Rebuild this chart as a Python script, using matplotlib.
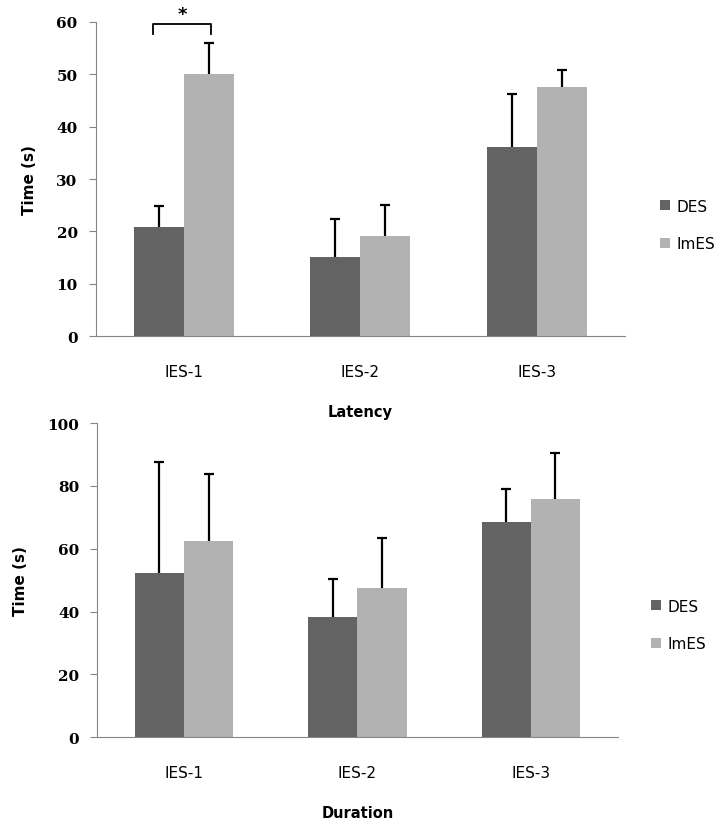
import matplotlib
matplotlib.use("Agg")
import matplotlib.pyplot as plt
import numpy as np

# data
groups = ["IES-1", "IES-2", "IES-3"]
series = ["DES", "ImES"]

lat_des = [20.8, 15.2, 36.1]
lat_des_err = [4.1, 7.2, 10.1]
lat_imes = [50.1, 19.1, 47.5]
lat_imes_err = [5.8, 6.0, 3.3]

dur_des = [52.3, 38.3, 68.4]
dur_des_err = [35.2, 12.1, 10.6]
dur_imes = [62.5, 47.5, 75.8]
dur_imes_err = [21.4, 15.8, 14.7]

DARK = "#636363"
LIGHT = "#b2b2b2"
AXC = "#868686"
W = 0.283


def upperErr(ax, x, vals, errs):
    # one-sided error bars: stem from bar top plus a cap, no lower cap
    vals, errs = np.asarray(vals), np.asarray(errs)
    ax.vlines(x, vals, vals + errs, color="black", lw=1.6, zorder=3)
    ax.plot(x, vals + errs, ls="none", marker="_", ms=7, mew=1.6,
            color="black", zorder=3, clip_on=False)


def drawPanel(ax, des, des_err, imes, imes_err, ymax, step, xlabel):
    x = np.arange(len(groups))
    ax.bar(x - W / 2, des, W, color=DARK, label=series[0])
    ax.bar(x + W / 2, imes, W, color=LIGHT, label=series[1])
    upperErr(ax, x - W / 2, des, des_err)
    upperErr(ax, x + W / 2, imes, imes_err)
    ax.set_xlim(-0.5, 2.5)
    ax.set_ylim(0, ymax)
    ax.set_yticks(np.arange(0, ymax + 1, step))
    ax.set_xticks(x)
    ax.set_xticklabels(groups, fontsize=11)
    for s in ["top", "right"]:
        ax.spines[s].set_visible(False)
    for s in ["left", "bottom"]:
        ax.spines[s].set_color(AXC)
    ax.tick_params(axis="x", length=0, pad=20)
    ax.tick_params(axis="y", length=5, color=AXC, pad=8)
    for t in ax.get_yticklabels():
        t.set_fontfamily("DejaVu Serif")
        t.set_fontweight("bold")
        t.set_fontsize(11)
    ax.set_ylabel("Time (s)", fontsize=11, fontweight="bold", labelpad=14)
    ax.set_xlabel(xlabel, fontsize=10.5, fontweight="bold", labelpad=18)


fig = plt.figure(figsize=(7.26, 8.29), dpi=100)
ax1 = fig.add_axes([0.1318, 0.5931, 0.7291, 0.3795])
ax2 = fig.add_axes([0.1340, 0.1094, 0.7168, 0.3791])

drawPanel(ax1, lat_des, lat_des_err, lat_imes, lat_imes_err, 60, 10, "Latency")
drawPanel(ax2, dur_des, dur_des_err, dur_imes, dur_imes_err, 100, 20, "Duration")

# significance bracket
ax1.plot([-0.176, -0.176, 0.153, 0.153], [57.6, 59.6, 59.6, 57.6],
         color="black", lw=1.3, clip_on=False)
ax1.text(-0.01, 61.4, "*", ha="center", va="center", fontsize=13,
         fontweight="bold", clip_on=False)

for ax, ypix, xpix in [(ax1, 226, 660), (ax2, 626, 651)]:
    h, l = ax.get_legend_handles_labels()
    fig.legend(h, l, loc="center left",
               bbox_to_anchor=(xpix / 726, 1 - ypix / 829),
               frameon=False, fontsize=11, handlelength=0.65,
               handleheight=0.65, handletextpad=0.4, labelspacing=1.5,
               borderpad=0, borderaxespad=0)

fig.savefig("out.png", dpi=100)
